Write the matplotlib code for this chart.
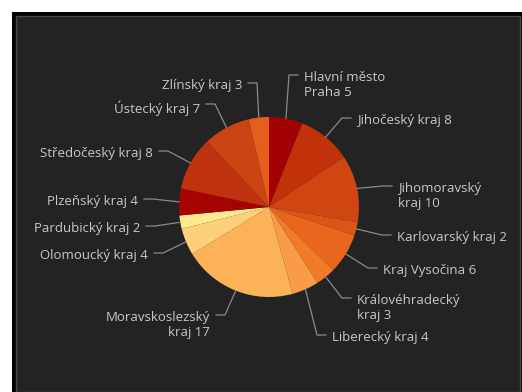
import numpy as np
import matplotlib.pyplot as plt
from matplotlib.patches import Rectangle

regions = ["Hlavní město\nPraha", "Jihočeský kraj", "Jihomoravský\nkraj", "Karlovarský kraj",
           "Kraj Vysočina", "Královéhradecký\nkraj", "Liberecký kraj", "Moravskoslezský\nkraj",
           "Olomoucký kraj", "Pardubický kraj", "Plzeňský kraj", "Středočeský kraj",
           "Ústecký kraj", "Zlínský kraj"]
counts = [5, 8, 10, 2, 6, 3, 4, 17, 4, 2, 4, 8, 7, 3]
colors = ["#a30202", "#c1320b", "#d04612", "#dc5418", "#e8661e", "#f27b27", "#f99b48",
          "#fcb357", "#fdd07b", "#fee98c", "#a60303", "#c0320d", "#cc4413", "#e45f1b"]

# label anchor (pixel coords, y down) and side; layout only
label_xy = [(298, 75), (351, 118), (392, 186), (391, 235), (377, 268), (351, 298), (326, 335),
            (216, 315), (154, 253), (146, 226), (144, 199), (159, 151), (206, 104), (248, 83)]

W, H = 522, 392
cx, cy, r = 269, 207, 90


def py(y):
    return H - y


fig = plt.figure(figsize=(W / 100, H / 100), dpi=100, facecolor="white")
ax = fig.add_axes([0, 0, 1, 1])

ax.add_patch(Rectangle((12, 0), W - 12, H - 12, facecolor="black", edgecolor="none", zorder=0))
ax.add_patch(Rectangle((16, 0), W - 18, H - 16, facecolor="#232323", edgecolor="#4a4a4a",
                       linewidth=1, zorder=0))

ax.pie(counts, colors=colors, startangle=90, counterclock=False, center=(cx, py(cy)),
       radius=r, frame=True, wedgeprops=dict(linewidth=0))
ax.set_xlim(0, W)
ax.set_ylim(0, H)
ax.set_aspect("equal")
ax.axis("off")

total = sum(counts)
cum = 0
for name, v, (tx, ty) in zip(regions, counts, label_xy):
    mid = np.deg2rad(90 - 360 * (cum + v / 2) / total)
    cum += v
    ex, ey = cx + r * np.cos(mid), cy - r * np.sin(mid)
    right = tx > cx
    bx = tx - 9 if right else tx + 9
    ax.plot([ex, bx, tx], [py(ey), py(ty), py(ty)], color="#8a8a8a", linewidth=0.9, zorder=3)
    label = name + " " + str(v)
    ax.text(tx + 6 if right else tx - 6, py(ty - 4), label,
            ha="left" if right else "right", va="top", fontsize=9.5,
            family=["Open Sans", "DejaVu Sans"], color="#c8c8c8", linespacing=1.2,
            multialignment="left" if right else "right", zorder=4)

plt.savefig("out.png", dpi=100, facecolor="white")
